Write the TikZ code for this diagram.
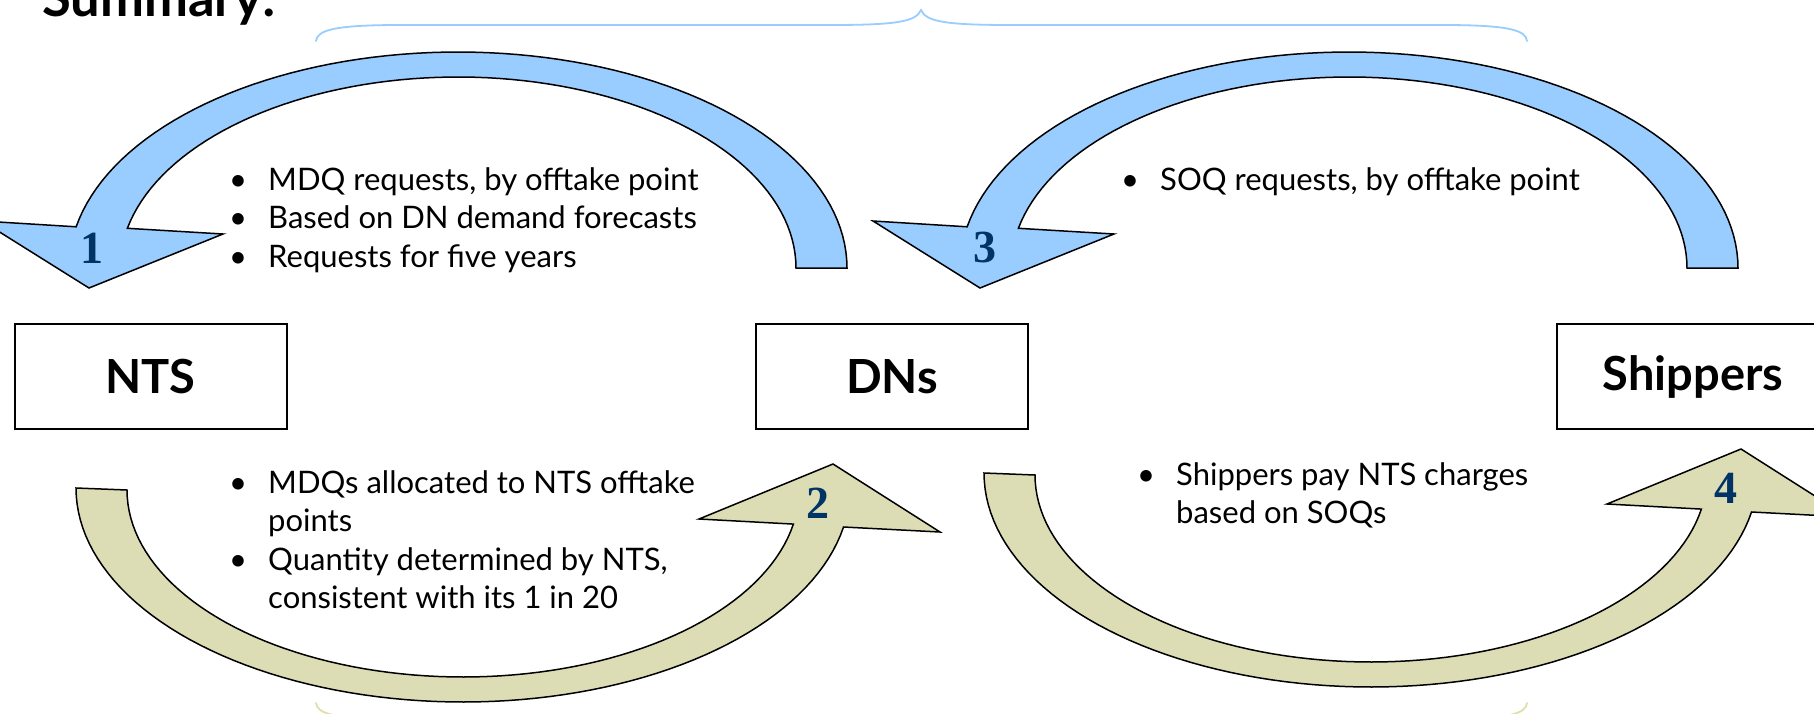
\documentclass[tikz,border=0pt]{standalone}
\usepackage{fontspec}
\setmainfont{Lato}
\newfontfamily\numfont{Liberation Serif}
\definecolor{bluefill}{RGB}{153,204,255}
\definecolor{tanfill}{RGB}{221,221,181}
\definecolor{navy}{RGB}{0,51,102}
\definecolor{bracetan}{RGB}{224,222,170}
\tikzset{
  bluearrow/.style={fill=bluefill, draw=black, line width=1.5pt, line join=miter},
  tanarrow/.style={fill=tanfill, draw=black, line width=1.5pt, line join=miter},
  box/.style={draw=black, line width=2pt, fill=white, minimum width=272pt, minimum height=105pt, inner sep=0pt, font=\bfseries\fontsize{47}{47}\selectfont},
  num/.style={text=navy, inner sep=0pt, font=\numfont\bfseries\fontsize{46}{46}\selectfont},
  txt/.style={anchor=base west, inner sep=0pt, font=\fontsize{31}{36}\selectfont},
  bul/.style={anchor=base, inner sep=0pt, font=\fontsize{31}{36}\selectfont},
  brace/.style={line width=1.8pt, line cap=round}
}
\begin{document}
\begin{tikzpicture}[x=1pt,y=-1pt]
\useasboundingbox (0,0) rectangle (1814,713);
\clip (0,0) rectangle (1814,713);
\fill[white] (0,0) rectangle (1814,713);

% title
\node[anchor=base west, inner sep=0pt, font=\bfseries\fontsize{52.5}{52.5}\selectfont] (title) at (42,16) {Summary:};

% braces
\draw[brace, bluefill] (316,41) .. controls (317,30) and (335,25) .. (400,25) -- (830,25)
  .. controls (895,25) and (916,22) .. (921,10) .. controls (926,22) and (947,25) .. (1012,25)
  -- (1443,25) .. controls (1508,25) and (1526,30) .. (1527,41);
\draw[brace, bracetan] (316,703) .. controls (317,714) and (335,719) .. (400,719) -- (830,719)
  .. controls (895,719) and (916,722) .. (921,734) .. controls (926,722) and (947,719) .. (1012,719)
  -- (1443,719) .. controls (1508,719) and (1526,714) .. (1527,703);

% arrow 1 and 3 (blue, top)
\foreach \dx in {0,891}{
\begin{scope}[shift={(\dx,0)}]
\path[bluearrow] (847,268)
  -- plot[domain=0:169, samples=80, variable=\t] ({458+389*cos(\t)}, {268-216*sin(\t)})
  -- (-18,221) -- (89,288) -- (223,234)
  -- plot[domain=168:0, samples=80, variable=\t] ({458+338*cos(\t)}, {268-191*sin(\t)})
  -- cycle;
\end{scope}}

% arrow 2 and 4 (tan, bottom)
\foreach \dx/\dy in {0/0,908/-15}{
\begin{scope}[shift={(\dx,\dy)}]
\path[tanarrow] (127,490) -- (76,488)
  -- plot[domain=180:10.5, samples=80, variable=\t] ({463+387*cos(\t)}, {488+214*sin(\t)})
  -- (940,532) -- (833,464) -- (699,519)
  -- plot[domain=10.5:180, samples=80, variable=\t] ({463+336*cos(\t)}, {490+187*sin(\t)})
  -- cycle;
\end{scope}}

% numbers
\node[num] (n1) at (92,248) {1};
\node[num] (n3) at (985,247) {3};
\node[num] (n2) at (818,503) {2};
\node[num] (n4) at (1726,488) {4};

% boxes
\node[box] (nts) at (150.5,376.5) {NTS};
\node[box] (dns) at (892,376.5) {DNs};
\node[box] (ship) at (1693,376.5) {Shippers};

% text block 1
\node[bul] (b1a) at (238,190) {\textbullet};
\node[txt] (t1a) at (268,190) {MDQ requests, by offtake point};
\node[bul] (b1b) at (238,228.5) {\textbullet};
\node[txt] (t1b) at (268,228.5) {Based on DN demand forecasts};
\node[bul] (b1c) at (238,267) {\textbullet};
\node[txt] (t1c) at (268,267) {Requests for five years};

% text block 3
\node[bul] (b3a) at (1130,190) {\textbullet};
\node[txt] (t3a) at (1160,190) {SOQ requests, by offtake point};

% text block 2
\node[bul] (b2a) at (238,493) {\textbullet};
\node[txt] (t2a) at (268,493) {MDQs allocated to NTS offtake};
\node[txt] (t2b) at (268,531.5) {points};
\node[bul] (b2c) at (238,570) {\textbullet};
\node[txt] (t2c) at (268,570) {Quantity determined by NTS,};
\node[txt] (t2d) at (268,608.5) {consistent with its 1 in 20};

% text block 4
\node[bul] (b4a) at (1146,485) {\textbullet};
\node[txt] (t4a) at (1176,485) {Shippers pay NTS charges};
\node[txt] (t4b) at (1176,523.5) {based on SOQs};
\end{tikzpicture}
\end{document}
